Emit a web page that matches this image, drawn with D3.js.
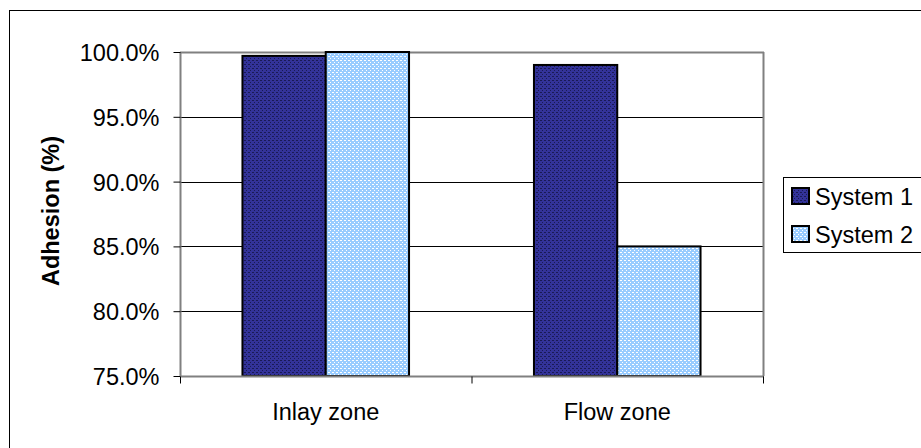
<!DOCTYPE html>
<html><head><meta charset="utf-8">
<script src="https://cdn.jsdelivr.net/npm/d3@7/dist/d3.min.js"></script>
<style>body{margin:0;background:#fff;overflow:hidden}svg{display:block;font-family:Arial,"Liberation Sans",sans-serif}</style>
</head><body>
<svg id="c" width="921" height="448"></svg>
<script>
const categories = ["Inlay zone", "Flow zone"];
const seriesNames = ["System 1", "System 2"];
const system1 = [0.997, 0.990];
const system2 = [1.000, 0.850];
const yTicks = [0.75, 0.80, 0.85, 0.90, 0.95, 1.00];

const FS = 23.5;
const svg = d3.select("#c");
const defs = svg.append("defs");
const p1 = defs.append("pattern").attr("id","pat1").attr("width",4).attr("height",4).attr("patternUnits","userSpaceOnUse");
p1.append("rect").attr("width",4).attr("height",4).attr("fill","#333399");
p1.append("rect").attr("x",0).attr("y",0).attr("width",2).attr("height",1).attr("fill","#1a1a55");
p1.append("rect").attr("x",2).attr("y",2).attr("width",1).attr("height",1).attr("fill","#1a1a55");
const p2 = defs.append("pattern").attr("id","pat2").attr("width",4).attr("height",4).attr("patternUnits","userSpaceOnUse");
p2.append("rect").attr("width",4).attr("height",4).attr("fill","#99ccff");
p2.append("rect").attr("x",0).attr("y",0).attr("width",2).attr("height",1).attr("fill","#ffffff");
p2.append("rect").attr("x",2).attr("y",2).attr("width",1).attr("height",1).attr("fill","#ffffff");
const fills = ["url(#pat1)","url(#pat2)"];

// outer border (right and bottom edges fall outside the view)
svg.append("rect").attr("x",9.5).attr("y",10.5).attr("width",960).attr("height",480).attr("fill","#fff").attr("stroke","#000").attr("stroke-width",1);

const L=180, R=763, T=52, B=376;
const x0 = d3.scaleBand().domain(categories).range([L,R]).paddingInner(0).paddingOuter(0);
const bw = x0.bandwidth()/3.5;
const x1 = d3.scaleBand().domain(seriesNames).range([0, 2*bw]);
const y = d3.scaleLinear().domain([0.75,1.0]).range([B,T]);

// gridlines
svg.append("g").selectAll("line").data(yTicks.filter(t=>t>0.75 && t<1.0)).join("line")
  .attr("x1",L).attr("x2",R).attr("y1",d=>Math.round(y(d))+0.5).attr("y2",d=>Math.round(y(d))+0.5)
  .attr("stroke","#000").attr("stroke-width",1);
// top and right plot border
svg.append("line").attr("x1",L).attr("x2",R+1).attr("y1",T+0.5).attr("y2",T+0.5).attr("stroke","#808080").attr("stroke-width",2);
svg.append("line").attr("x1",R+0.5).attr("x2",R+0.5).attr("y1",T).attr("y2",B).attr("stroke","#808080").attr("stroke-width",2);

// bars
const data = categories.map((c,i)=>({cat:c, vals:[system1[i], system2[i]]}));
const g = svg.append("g");
data.forEach(d=>{
  const gx = x0(d.cat) + (x0.bandwidth()-2*bw)/2;
  d.vals.forEach((v,j)=>{
    g.append("rect").attr("x", gx + x1(seriesNames[j])).attr("y", y(v))
     .attr("width", bw).attr("height", B - y(v))
     .attr("fill", fills[j]).attr("stroke","#000").attr("stroke-width",2);
  });
});

// y axis
const yAxis = d3.axisLeft(y).tickValues(yTicks).tickFormat(d3.format(".1%")).tickSize(7).tickPadding(14);
const ya = svg.append("g").attr("transform",`translate(${L+0.5},0)`).call(yAxis);
ya.attr("font-size",null).attr("font-family",null);
ya.select(".domain").attr("stroke","#808080").attr("stroke-width",2).attr("d",`M0,${T}V${B}`);
ya.selectAll(".tick line").attr("stroke","#000");
ya.selectAll(".tick text").attr("font-size",FS).attr("fill","#000").attr("dy","0.36em");

// x axis
const xa = svg.append("g").attr("transform",`translate(0,${B+0.5})`);
xa.append("line").attr("x1",L).attr("x2",R+1).attr("y1",0).attr("y2",0).attr("stroke","#808080").attr("stroke-width",2);
const xt = [L, L+x0.bandwidth(), R];
xa.selectAll(".xt").data(xt).join("line").attr("x1",d=>d+0.5).attr("x2",d=>d+0.5).attr("y1",0).attr("y2",7).attr("stroke","#000");
xa.selectAll("text").data(categories).join("text")
  .attr("x",d=>x0(d)+x0.bandwidth()/2).attr("y",43.5).attr("text-anchor","middle")
  .attr("font-size",FS).text(d=>d);

// y title
svg.append("text").attr("transform",`translate(59,211) rotate(-90)`).attr("text-anchor","middle")
  .attr("font-size",FS).attr("font-weight","bold").text("Adhesion (%)");

// legend
const lg = svg.append("g");
lg.append("rect").attr("x",783.5).attr("y",177.5).attr("width",160).attr("height",75).attr("fill","#fff").attr("stroke","#000");
seriesNames.forEach((s,i)=>{
  const yy = 188 + i*38;
  lg.append("rect").attr("x",792).attr("y",yy).attr("width",17).attr("height",16).attr("fill",fills[i]).attr("stroke","#000").attr("stroke-width",2);
  lg.append("text").attr("x",815).attr("y",yy+16.5).attr("font-size",FS).text(s);
});
</script>
</body></html>
